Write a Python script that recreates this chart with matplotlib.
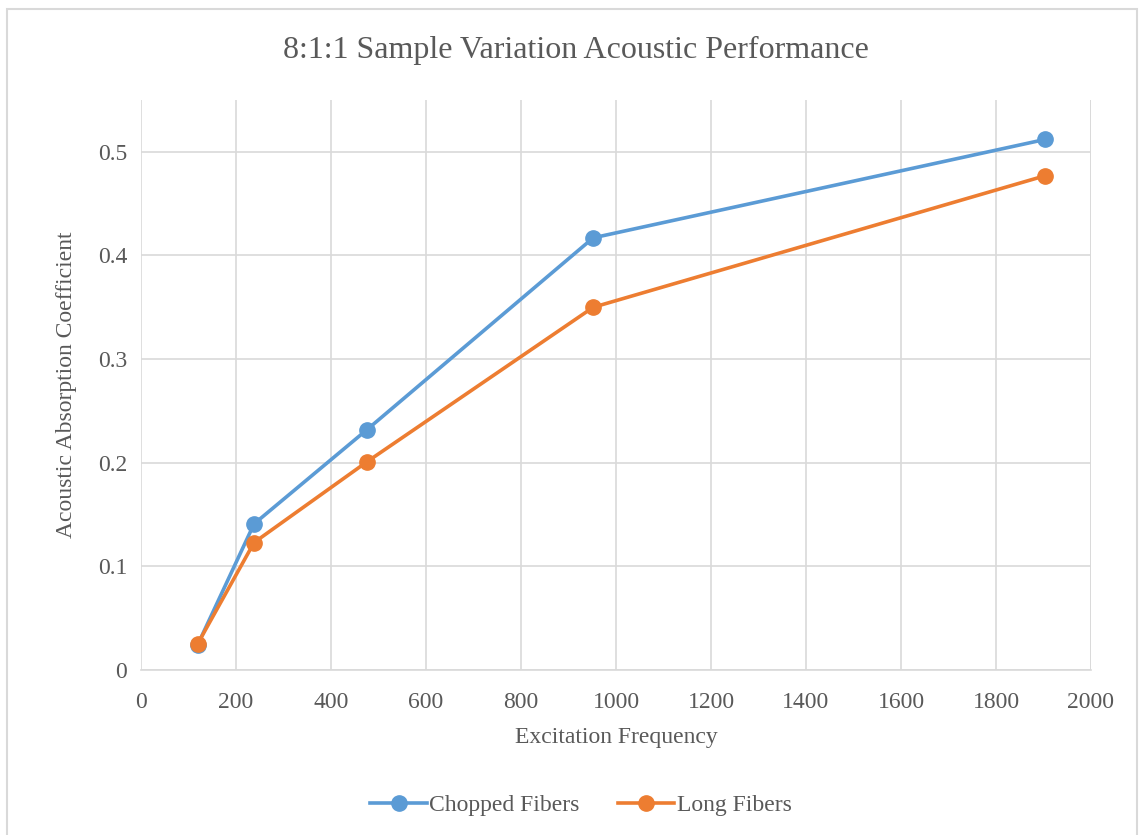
"""8:1:1 sample variation: acoustic absorption vs excitation frequency."""

import matplotlib

matplotlib.use("Agg")
import matplotlib.pyplot as plt  # noqa: E402
from matplotlib.patches import Rectangle  # noqa: E402

frequency = [119, 238, 476, 952, 1904]
chopped_fibers = [0.024, 0.141, 0.232, 0.417, 0.512]
long_fibers = [0.025, 0.123, 0.201, 0.350, 0.477]

x_ticks = list(range(0, 2001, 200))
y_ticks = [0, 0.1, 0.2, 0.3, 0.4, 0.5]
y_tick_labels = ["0", "0.1", "0.2", "0.3", "0.4", "0.5"]

BLUE = "#5B9BD5"
ORANGE = "#ED7D31"
TEXT = "#595959"
GRID = "#D9D9D9"

plt.rcParams["font.family"] = ["Liberation Serif", "DejaVu Serif"]

W, H = 1143, 835
fig = plt.figure(figsize=(W / 100, H / 100), dpi=100)
ax = fig.add_axes([141 / W, 1 - 670 / H, (1091 - 141) / W, (670 - 100) / H])

ax.plot(frequency, chopped_fibers, color=BLUE, lw=2.6, marker="o", ms=11,
        label="Chopped Fibers", zorder=3)
ax.plot(frequency, long_fibers, color=ORANGE, lw=2.6, marker="o", ms=11,
        label="Long Fibers", zorder=4)

ax.set_xlim(0, 2000)
ax.set_ylim(0, 0.55)
ax.set_xticks(x_ticks)
ax.set_yticks(y_ticks)
ax.set_yticklabels(y_tick_labels)
ax.tick_params(length=0, labelsize=17, colors=TEXT)
ax.tick_params(axis="x", pad=16)
ax.tick_params(axis="y", pad=10)
ax.grid(True, color=GRID, lw=1.2)
ax.set_axisbelow(True)
for side in ("top", "right", "left"):
    ax.spines[side].set_visible(False)
ax.spines["bottom"].set_color(GRID)
ax.spines["bottom"].set_linewidth(1.2)
ax.axvline(2000, color=GRID, lw=1.2, zorder=0)

ax.set_xlabel("Excitation Frequency", fontsize=17, color=TEXT, labelpad=10)
ax.set_ylabel("Acoustic Absorption Coefficient", fontsize=17, color=TEXT, labelpad=15)

fig.text(576 / W, 1 - 50 / H,
         "8:1:1 Sample Variation Acoustic Performance",
         ha="center", va="center", fontsize=23, color=TEXT)

fig.legend(loc="center", bbox_to_anchor=(581 / W, 1 - 805 / H), ncol=2,
           frameon=False, fontsize=17, labelcolor=TEXT, handlelength=2.4,
           columnspacing=1.6, handletextpad=0.1)

fig.patches.append(Rectangle((7 / W, -0.02), (1137 - 7) / W, 1 - 9 / H + 0.02,
                             transform=fig.transFigure, fill=False,
                             edgecolor=GRID, lw=1.5))

fig.savefig("out.png", dpi=100)
